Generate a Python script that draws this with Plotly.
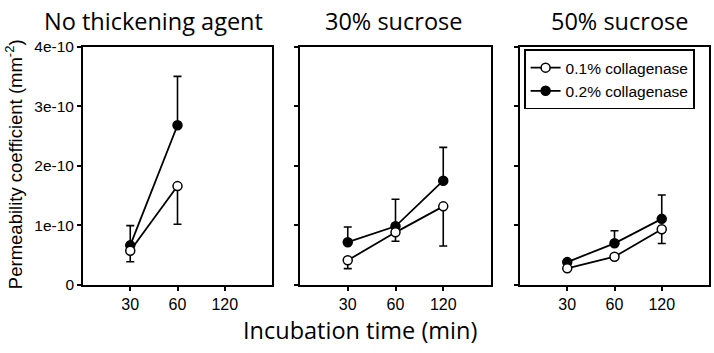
import plotly.graph_objects as go

W, H = 714, 353

categories = ["30", "60", "120"]
panel_titles = ["No thickening agent", "30% sucrose", "50% sucrose"]
series_names = ["0.1% collagenase", "0.2% collagenase"]

# Panel 1: No thickening agent
p1_x = ["30", "60"]
p1_open = [0.575e-10, 1.66e-10]
p1_open_err_down = [0.185e-10, 0.64e-10]
p1_filled = [0.666e-10, 2.68e-10]
p1_filled_err_up = [0.33e-10, 0.82e-10]

# Panel 2: 30% sucrose
p2_x = ["30", "60", "120"]
p2_open = [0.415e-10, 0.884e-10, 1.32e-10]
p2_open_err_down = [0.14e-10, 0.15e-10, 0.665e-10]
p2_filled = [0.719e-10, 0.985e-10, 1.75e-10]
p2_filled_err_up = [0.255e-10, 0.455e-10, 0.56e-10]

# Panel 3: 50% sucrose
p3_x = ["30", "60", "120"]
p3_open = [0.28e-10, 0.475e-10, 0.936e-10]
p3_open_err_down = [0.0, 0.0, 0.24e-10]
p3_filled = [0.385e-10, 0.70e-10, 1.11e-10]
p3_filled_err_up = [0.0, 0.21e-10, 0.40e-10]

y_tickvals = [0, 1e-10, 2e-10, 3e-10, 4e-10]
y_ticktext = ["0", "1e-10", "2e-10", "3e-10", "4e-10"]

panels = [
    (p1_x, p1_open, p1_open_err_down, p1_filled, p1_filled_err_up),
    (p2_x, p2_open, p2_open_err_down, p2_filled, p2_filled_err_up),
    (p3_x, p3_open, p3_open_err_down, p3_filled, p3_filled_err_up),
]

SANS = "Liberation Sans"
TITLE_FONT = "Open Sans"

# pixel layout
x_px = [(83, 272), (300, 491), (520, 709)]
y_px = (39.5, 290)
title_cx = [153, 393, 619]

fig = go.Figure()
for i, (xs, yo, eo, yf, ef) in enumerate(panels):
    ax = "" if i == 0 else str(i + 1)
    show = (i == 2)
    fig.add_trace(go.Scatter(
        x=xs, y=yf, mode="lines+markers", name=series_names[1],
        xaxis="x" + ax, yaxis="y" + ax, showlegend=show, legendrank=2,
        line=dict(color="black", width=1.8),
        marker=dict(symbol="circle", size=9, color="black",
                    line=dict(color="black", width=1.5)),
        error_y=dict(type="data", array=ef, arrayminus=[0] * len(ef),
                     color="black", thickness=1.6, width=4),
    ))
    fig.add_trace(go.Scatter(
        x=xs, y=yo, mode="lines+markers", name=series_names[0],
        xaxis="x" + ax, yaxis="y" + ax, showlegend=show, legendrank=1,
        line=dict(color="black", width=1.8),
        marker=dict(symbol="circle", size=9, color="white",
                    line=dict(color="black", width=1.5)),
        error_y=dict(type="data", array=[0] * len(eo), arrayminus=eo,
                     color="black", thickness=1.6, width=4),
    ))

layout = dict(
    width=W, height=H,
    margin=dict(l=0, r=0, t=0, b=0),
    paper_bgcolor="white", plot_bgcolor="white",
    font=dict(family=SANS, color="black", size=15),
    legend=dict(
        x=524 / W, y=1 - 42.5 / H, xanchor="left", yanchor="top",
        bordercolor="black", borderwidth=1.6, bgcolor="white",
        font=dict(family=SANS, size=15.5, color="black"),
        tracegroupgap=0, itemwidth=30,
    ),
    annotations=[],
)

for i in range(3):
    ax = "" if i == 0 else str(i + 1)
    x0, x1 = x_px[i]
    layout["xaxis" + ax] = dict(
        domain=[x0 / W, x1 / W], anchor="y" + ax,
        type="category", categoryorder="array", categoryarray=categories,
        tickvals=categories, ticktext=categories,
        range=[-1, 3], showgrid=False, zeroline=False,
        showline=True, linecolor="black", linewidth=1.8, mirror=True,
        ticks="outside", ticklen=4, tickwidth=1.5, tickcolor="black",
        tickfont=dict(family=SANS, size=16, color="black"), fixedrange=True,
    )
    layout["yaxis" + ax] = dict(
        domain=[1 - y_px[1] / H, 1 - y_px[0] / H], anchor="x" + ax,
        range=[0, 4e-10], tickvals=y_tickvals, ticktext=y_ticktext,
        showticklabels=(i == 0), showgrid=False, zeroline=False,
        showline=True, linecolor="black", linewidth=1.8, mirror=True,
        ticks="outside", ticklen=4, tickwidth=1.5, tickcolor="black",
        tickfont=dict(family=SANS, size=15.5, color="black"), fixedrange=True,
    )
    layout["annotations"].append(dict(
        text=panel_titles[i], xref="paper", yref="paper",
        x=title_cx[i] / W, y=1 - 13 / H, xanchor="center", yanchor="middle",
        showarrow=False, font=dict(family=TITLE_FONT, size=23.5, color="black"),
    ))

layout["annotations"].append(dict(
    text="Incubation time (min)", xref="paper", yref="paper",
    x=360 / W, y=1 - 337 / H, xanchor="center", yanchor="middle",
    showarrow=False, font=dict(family=TITLE_FONT, size=23.5, color="black"),
))
layout["annotations"].append(dict(
    text="Permeability coefficient (mm<sup>-2</sup>)", xref="paper", yref="paper",
    x=14 / W, y=1 - 163 / H, xanchor="center", yanchor="middle", textangle=-90,
    showarrow=False, font=dict(family=SANS, size=18.5, color="black"),
))

fig.update_layout(**layout)
fig.write_html(
    "out.html",
    config={"displayModeBar": False, "responsive": False},
    post_script=(
        "document.body.style.margin='0px';"
        "document.body.style.overflow='hidden';"
        "document.documentElement.style.overflow='hidden';"
    ),
)
